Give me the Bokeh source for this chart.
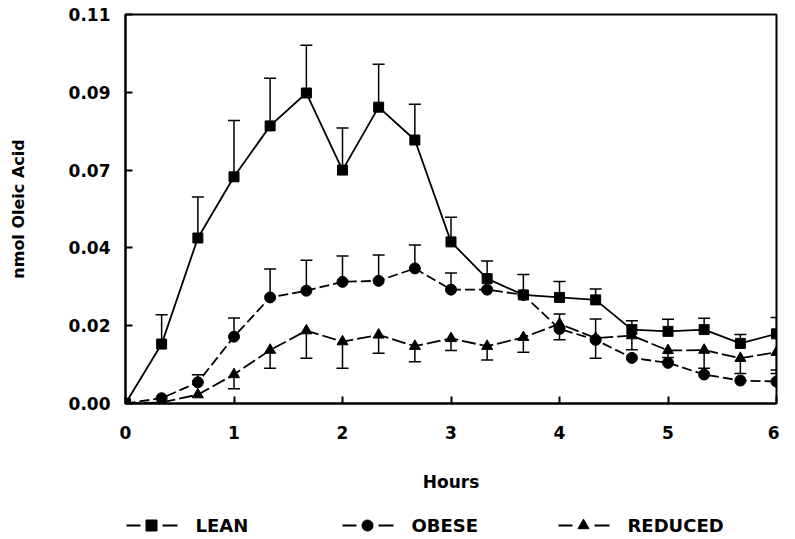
from bokeh.plotting import figure
from bokeh.layouts import column
from bokeh.models import ColumnDataSource, Whisker, TeeHead, FixedTicker, Range1d
from bokeh.core.properties import value
from bokeh.embed import file_html
from bokeh.resources import INLINE

# ---- data ----
hours = [0.0, 0.333, 0.667, 1.0, 1.333, 1.667, 2.0, 2.333, 2.667, 3.0,
         3.333, 3.667, 4.0, 4.333, 4.667, 5.0, 5.333, 5.667, 6.0]
lean = [0.0, 0.0168, 0.0468, 0.0641, 0.0785, 0.0878, 0.0660, 0.0838, 0.0745, 0.0457,
        0.0353, 0.0307, 0.0300, 0.0293, 0.0209, 0.0204, 0.0209, 0.0170, 0.0197]
lean_err = [0.0, 0.0083, 0.0116, 0.0159, 0.0135, 0.0135, 0.0119, 0.0121, 0.0101, 0.0070,
            0.0050, 0.0058, 0.0045, 0.0031, 0.0025, 0.0034, 0.0032, 0.0025, 0.0046]
obese = [0.0, 0.0015, 0.0060, 0.0189, 0.0300, 0.0319, 0.0344, 0.0347, 0.0382, 0.0322,
         0.0322, 0.0307, 0.0211, 0.0180, 0.0129, 0.0115, 0.0082, 0.0065, 0.0062]
obese_err = [0.0, 0.0, 0.0021, 0.0053, 0.0080, 0.0086, 0.0073, 0.0073, 0.0066, 0.0047,
             0.0, 0.0, 0.0042, 0.0059, 0.0, 0.0, 0.0, 0.0, 0.0033]
reduced = [0.0, 0.0003, 0.0025, 0.0082, 0.0151, 0.0206, 0.0175, 0.0194, 0.0162, 0.0184,
           0.0162, 0.0187, 0.0225, 0.0185, 0.0192, 0.0150, 0.0151, 0.0128, 0.0145]
reduced_err = [0.0, 0.0, 0.0, 0.0040, 0.0051, 0.0078, 0.0075, 0.0052, 0.0044, 0.0034,
               0.0039, 0.0042, 0.0045, 0.0057, 0.0040, 0.0020, 0.0051, 0.0043, 0.0060]

series_names = ["LEAN", "OBESE", "REDUCED"]
series_markers = ["square", "circle", "triangle"]
x_ticks = [0, 1, 2, 3, 4, 5, 6]
y_ticks = [0.0, 0.022, 0.044, 0.066, 0.088, 0.11]
y_tick_labels = ["0.00", "0.02", "0.04", "0.07", "0.09", "0.11"]

FONT = "DejaVu Sans"
W = 779
FRAME_L, FRAME_R = 125, 776

p = figure(width=W, height=500, output_backend="svg", toolbar_location=None,
           x_range=Range1d(0, 6), y_range=Range1d(0, 0.11),
           min_border_left=FRAME_L, min_border_right=W - FRAME_R, min_border_top=14,
           min_border_bottom=97)
p.grid.visible = False
p.outline_line_color = "black"
p.outline_line_width = 2
p.background_fill_color = "white"
p.border_fill_color = "white"

for ax in (p.xaxis[0], p.yaxis[0]):
    ax.axis_line_width = 2
    ax.major_tick_in = 7
    ax.major_tick_out = 0
    ax.major_tick_line_width = 2
    ax.minor_tick_line_color = None
    ax.major_label_text_font = FONT
    ax.major_label_text_font_style = "bold"
    ax.major_label_text_font_size = "17px"
    ax.major_label_text_color = "black"
    ax.axis_label_text_font = FONT
    ax.axis_label_text_font_style = "bold"
    ax.axis_label_text_color = "black"

p.xaxis.ticker = FixedTicker(ticks=x_ticks)
p.xaxis.major_label_standoff = 22
p.xaxis.axis_label = "Hours"
p.xaxis.axis_label_text_font_size = "17px"
p.xaxis.axis_label_standoff = 30

p.yaxis.ticker = FixedTicker(ticks=y_ticks)
p.yaxis.major_label_overrides = {t: l for t, l in zip(y_ticks, y_tick_labels)}
p.yaxis.major_label_standoff = 15
p.yaxis.axis_label = "nmol Oleic Acid"
p.yaxis.axis_label_text_font_size = "16px"
p.yaxis.axis_label_standoff = 38

# ---- error bars ----
def add_whisker(vals, errs, up):
    xs, lo, hi = [], [], []
    for x, v, e in zip(hours, vals, errs):
        if e > 0:
            xs.append(x)
            if up:
                lo.append(v); hi.append(v + e)
            else:
                lo.append(v - e); hi.append(v)
    src = ColumnDataSource(dict(x=xs, lower=lo, upper=hi))
    head = TeeHead(size=12, line_width=1.5, line_color="black")
    w = Whisker(base="x", lower="lower", upper="upper", source=src,
                line_width=1.5, line_color="black",
                upper_head=head if up else None,
                lower_head=None if up else head)
    p.add_layout(w)

add_whisker(lean, lean_err, True)
add_whisker(obese, obese_err, True)
add_whisker(reduced, reduced_err, False)

# ---- lines and markers ----
p.line(hours, lean, line_color="black", line_width=1.8)
p.scatter(hours, lean, marker="square", size=10, color="black")
p.line(hours, obese, line_color="black", line_width=1.8, line_dash="10 4")
p.scatter(hours, obese, marker="circle", size=11, color="black")
p.line(hours, reduced, line_color="black", line_width=1.8, line_dash="14 4")
p.scatter(hours, reduced, marker="triangle", size=11, color="black")

# ---- legend strip (its frame is aligned with the main frame; pixel coordinates) ----
LH = 35
leg = figure(width=W, height=LH, output_backend="svg", toolbar_location=None,
             x_range=Range1d(FRAME_L, FRAME_R), y_range=Range1d(0, LH),
             min_border_left=FRAME_L, min_border_right=W - FRAME_R,
             min_border_top=0, min_border_bottom=0,
             x_axis_location=None, y_axis_location=None)
leg.grid.visible = False
leg.outline_line_color = None
leg.background_fill_color = "white"
leg.border_fill_color = "white"

starts = [125, 341, 557]
ly = 10
for s, name, mk in zip(starts, series_names, series_markers):
    leg.segment(x0=[s + 1, s + 37], y0=[ly, ly], x1=[s + 15, s + 52], y1=[ly, ly],
                line_color="black", line_width=2)
    leg.scatter(x=[s + 26], y=[ly], marker=mk, size=11, color="black")
    leg.text(x=[s + 70], y=[ly], text=[name], text_font=value(FONT),
             text_font_style="bold", text_font_size="18px",
             text_baseline="middle", text_align="left", text_color="black")

layout = column(p, leg, spacing=0)
open("out.html", "w").write(file_html(layout, INLINE))
